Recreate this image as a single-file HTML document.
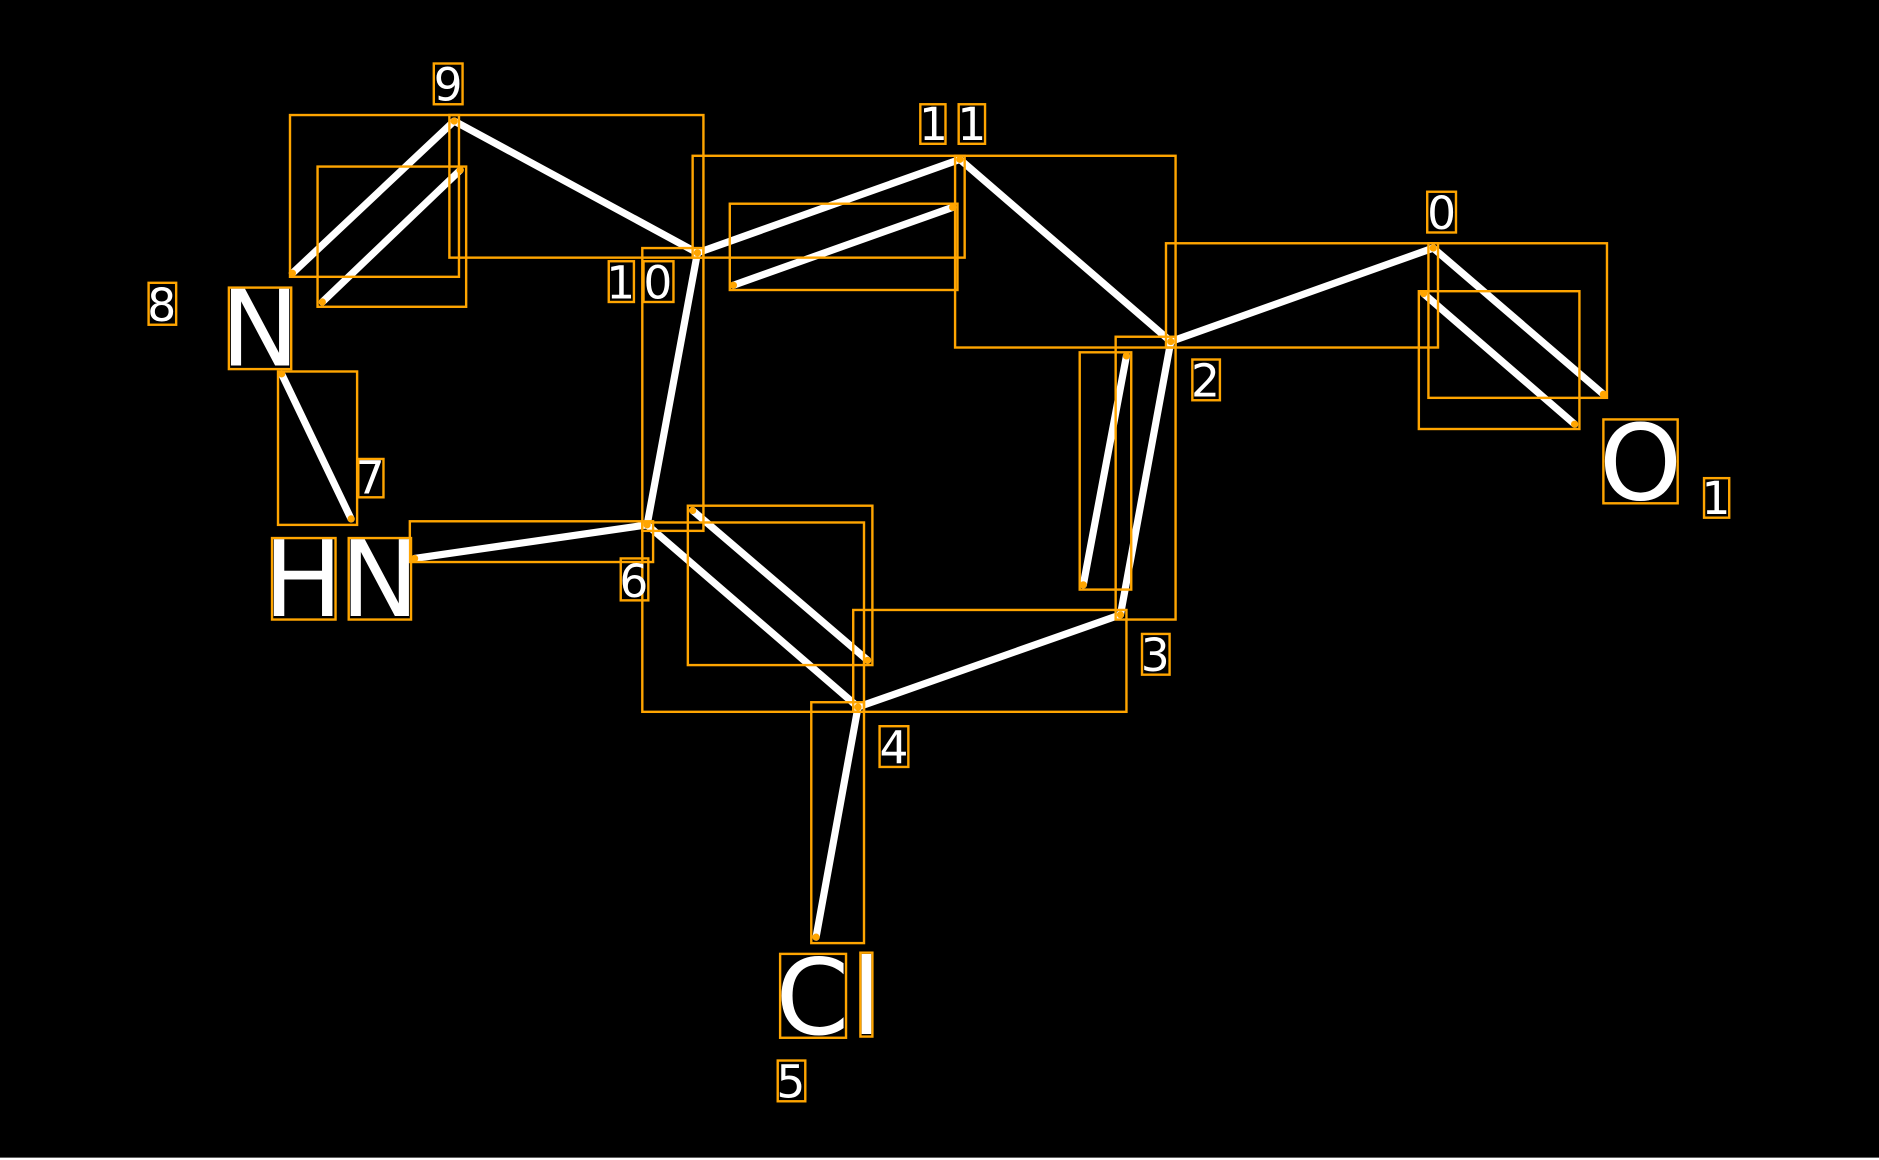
<!DOCTYPE html>
<html><head><meta charset="utf-8"><style>
html,body{margin:0;padding:0;background:#000;width:1879px;height:1160px;overflow:hidden}
svg{display:block}
text{font-family:"DejaVu Sans","Liberation Sans",sans-serif;fill:#fff}
</style></head><body>
<svg width="1879" height="1160" viewBox="0 0 1568 968" preserveAspectRatio="none">
<rect width="1568" height="968" fill="#000"/>
<g stroke="#fff" stroke-width="6" stroke-linecap="round">
<line x1="379" y1="101" x2="582" y2="211"/>
<line x1="379" y1="101" x2="244" y2="228"/>
<line x1="384" y1="142" x2="269" y2="252"/>
<line x1="582" y1="211" x2="801" y2="133"/>
<line x1="612" y1="238" x2="795" y2="173"/>
<line x1="801" y1="133" x2="977" y2="285"/>
<line x1="977" y1="285" x2="1196" y2="207"/>
<line x1="1196" y1="207" x2="1338" y2="329"/>
<line x1="1188" y1="245" x2="1314" y2="354"/>
<line x1="977" y1="285" x2="935" y2="513"/>
<line x1="940" y1="297" x2="904" y2="488"/>
<line x1="935" y1="513" x2="716" y2="590"/>
<line x1="716" y1="590" x2="540" y2="438"/>
<line x1="578" y1="426" x2="724" y2="551"/>
<line x1="716" y1="590" x2="681" y2="782"/>
<line x1="540" y1="438" x2="582" y2="211"/>
<line x1="540" y1="438" x2="346" y2="466"/>
<line x1="235" y1="312" x2="293" y2="433"/>
</g>
<g fill="none" stroke="#FFA500" stroke-width="2">
<rect x="242" y="96" width="141" height="135"/>
<rect x="375" y="96" width="212" height="119"/>
<rect x="265" y="139" width="124" height="117"/>
<rect x="578" y="130" width="227" height="85"/>
<rect x="797" y="130" width="184" height="160"/>
<rect x="609" y="170" width="190" height="72"/>
<rect x="973" y="203" width="227" height="87"/>
<rect x="1192" y="203" width="149" height="129"/>
<rect x="1184" y="243" width="134" height="115"/>
<rect x="931" y="281" width="50" height="236"/>
<rect x="901" y="294" width="43" height="198"/>
<rect x="712" y="509" width="228" height="85"/>
<rect x="536" y="436" width="185" height="158"/>
<rect x="574" y="422" width="154" height="133"/>
<rect x="677" y="586" width="44" height="201"/>
<rect x="536" y="207" width="51" height="236"/>
<rect x="342" y="435" width="203" height="34"/>
<rect x="232" y="310" width="66" height="128"/>
<rect x="362" y="53" width="24" height="34"/>
<rect x="768" y="87" width="21" height="33"/>
<rect x="800" y="87" width="22" height="33"/>
<rect x="508" y="218" width="21" height="34"/>
<rect x="537" y="218" width="25" height="34"/>
<rect x="1191" y="160" width="24" height="34"/>
<rect x="995" y="300" width="23" height="34"/>
<rect x="124" y="236" width="23" height="35"/>
<rect x="191" y="240" width="52" height="68"/>
<rect x="299" y="383" width="21" height="32"/>
<rect x="227" y="449" width="53" height="68"/>
<rect x="291" y="449" width="52" height="68"/>
<rect x="518" y="466" width="23" height="35"/>
<rect x="953" y="529" width="23" height="34"/>
<rect x="734" y="606" width="24" height="34"/>
<rect x="1338" y="350" width="62" height="70"/>
<rect x="1422" y="399" width="21" height="33"/>
<rect x="651" y="796" width="55" height="70"/>
<rect x="718" y="795" width="10" height="70"/>
<rect x="649" y="885" width="23" height="34"/>
</g>
<g fill="#FFA500">
<circle cx="379" cy="101" r="3"/><circle cx="582" cy="211" r="3"/><circle cx="801" cy="133" r="3"/>
<circle cx="977" cy="285" r="3"/><circle cx="1196" cy="207" r="3"/><circle cx="935" cy="513" r="3"/>
<circle cx="716" cy="590" r="3"/><circle cx="540" cy="438" r="3"/><circle cx="244" cy="228" r="3"/>
<circle cx="384" cy="142" r="3"/><circle cx="269" cy="252" r="3"/><circle cx="612" cy="238" r="3"/>
<circle cx="795" cy="173" r="3"/><circle cx="1338" cy="329" r="3"/><circle cx="1188" cy="245" r="3"/>
<circle cx="1314" cy="354" r="3"/><circle cx="940" cy="297" r="3"/><circle cx="904" cy="488" r="3"/>
<circle cx="578" cy="426" r="3"/><circle cx="724" cy="551" r="3"/><circle cx="681" cy="782" r="3"/>
<circle cx="346" cy="466" r="3"/><circle cx="235" cy="312" r="3"/><circle cx="293" cy="433" r="3"/>
</g>
<g font-size="38" text-anchor="middle">
<text x="374" y="84">9</text>
<text x="779" y="117">1</text><text x="811" y="117">1</text>
<text x="518" y="249">1</text><text x="549" y="249">0</text>
<text x="1203" y="191">0</text>
<text x="1006" y="331">2</text>
<text x="135" y="268">8</text>
<text x="309" y="412">7</text>
<text x="529" y="498">6</text>
<text x="964" y="560">3</text>
<text x="746" y="637">4</text>
<text x="1432" y="429">1</text>
<text x="660" y="916">5</text>
</g>
<g font-size="88" text-anchor="middle">
<text x="217" y="305">N</text>
<text x="253" y="514">H</text>
<text x="317" y="514">N</text>
<text x="1369" y="417">O</text>
<text x="678" y="863">C</text>
<text x="723" y="863">l</text>
</g>
<line x1="0" y1="967" x2="1568" y2="967" stroke="#fff" stroke-width="2"/>
</svg>
</body></html>
